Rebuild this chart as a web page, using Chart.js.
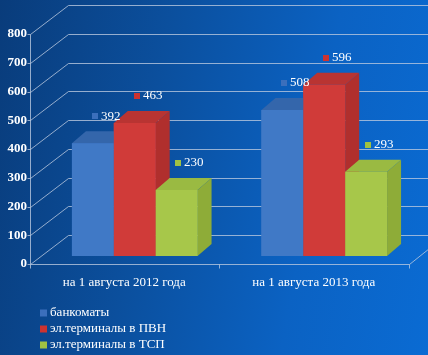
<!DOCTYPE html>
<html><head><meta charset="utf-8">
<script src="https://cdn.jsdelivr.net/npm/chart.js@4"></script>
<style>
html,body{margin:0;padding:0;width:428px;height:355px;overflow:hidden;}
body{background:linear-gradient(100deg,#093c7b 0%,#0b4f9d 35%,#0b62c3 70%,#0a6bd3 100%);}
#wrap{position:relative;width:428px;height:355px;}
</style></head><body>
<div id="wrap"><canvas id="c" width="428" height="355"></canvas></div>
<script>
const categories = ['на 1 августа 2012 года', 'на 1 августа 2013 года'];
const seriesNames = ['банкоматы', 'эл.терминалы в ПВН', 'эл.терминалы в ТСП'];
const atms = [392, 508];
const pvnTerminals = [463, 596];
const tspTerminals = [230, 293];
const yTicks = [0, 100, 200, 300, 400, 500, 600, 700, 800];

const frontColors = ['#4079c6', '#d03b39', '#a7c74a'];
const sideColors = ['#2f5fa3', '#b02f2d', '#8eac38'];
const topColors = ['#3466ab', '#b93432', '#9aba42'];
const markerColors = ['#3b6fbc', '#cc3331', '#9fc243'];

const FONT = '"Liberation Serif", "Times New Roman", serif';
const DEPTH = {dx: 14, dy: 12};
const FRONT = {dx: -10.5, dy: 8};
const BACK = {dx: 27.5, dy: -21};
const LINE = 'rgba(185,200,222,0.8)';

function poly(ctx, pts) {
  ctx.beginPath();
  ctx.moveTo(pts[0][0], pts[0][1]);
  for (let k = 1; k < pts.length; k++) ctx.lineTo(pts[k][0], pts[k][1]);
  ctx.closePath();
  ctx.fill();
}
function line(ctx, x1, y1, x2, y2) {
  ctx.beginPath(); ctx.moveTo(x1, y1); ctx.lineTo(x2, y2); ctx.stroke();
}

const frame3d = {
  id: 'frame3d',
  beforeDatasetsDraw(chart) {
    const {ctx, chartArea: a, scales: {x, y}} = chart;
    ctx.save();
    ctx.strokeStyle = LINE;
    ctx.lineWidth = 1;
    const fx = Math.round(a.left + FRONT.dx) + 0.5;
    const bx = Math.round(a.left + BACK.dx) + 0.5;
    yTicks.forEach(v => {
      const yp = y.getPixelForValue(v);
      const yb = Math.round(yp + BACK.dy) + 0.5;
      const yf = Math.round(yp + FRONT.dy) + 0.5;
      line(ctx, bx, yb, chart.width, yb);
      line(ctx, fx, yf, bx, yb);
      line(ctx, fx - 3, yf, fx, yf);
    });
    const yTop = Math.round(y.getPixelForValue(yTicks[yTicks.length - 1]) + FRONT.dy) + 0.5;
    const y0 = y.getPixelForValue(0);
    const yf0 = Math.round(y0 + FRONT.dy) + 0.5;
    line(ctx, fx, yTop, fx, yf0);
    const rf = Math.round(a.right + FRONT.dx) + 0.5;
    line(ctx, fx, yf0, rf, yf0);
    line(ctx, rf, yf0, a.right + BACK.dx, y0 + BACK.dy);
    const catW = (a.right - a.left) / categories.length;
    for (let k = 0; k <= categories.length; k++) {
      const tx = Math.round(a.left + k * catW + FRONT.dx) + 0.5;
      line(ctx, tx, yf0, tx, yf0 + 4);
    }
    ctx.restore();
  },
  afterDatasetsDraw(chart) {
    const {ctx} = chart;
    const items = [];
    chart.data.datasets.forEach((ds, i) => {
      chart.getDatasetMeta(i).data.forEach(bar => items.push({bar, i}));
    });
    items.sort((p, q) => p.bar.x - q.bar.x);
    ctx.save();
    items.forEach(({bar, i}) => {
      const {x, y, base, width} = bar.getProps(['x', 'y', 'base', 'width'], true);
      const l = x - width / 2, r = x + width / 2;
      ctx.fillStyle = sideColors[i];
      poly(ctx, [[r, y], [r + DEPTH.dx, y - DEPTH.dy], [r + DEPTH.dx, base - DEPTH.dy], [r, base]]);
      ctx.fillStyle = topColors[i];
      poly(ctx, [[l, y], [r, y], [r + DEPTH.dx, y - DEPTH.dy], [l + DEPTH.dx, y - DEPTH.dy]]);
      bar.draw(ctx, chart.chartArea);
    });
    ctx.restore();
  },
  afterDraw(chart) {
    const {ctx} = chart;
    ctx.save();
    ctx.font = '13px ' + FONT;
    ctx.textBaseline = 'middle';
    ctx.textAlign = 'left';
    chart.data.datasets.forEach((ds, i) => {
      chart.getDatasetMeta(i).data.forEach((bar, j) => {
        const txt = String(ds.data[j]);
        const w = ctx.measureText(txt).width;
        const total = 6 + 3 + w;
        const cx = bar.x + 13, cy = bar.y - 27;
        const sx = Math.round(cx - total / 2);
        ctx.fillStyle = markerColors[i];
        ctx.fillRect(sx, Math.round(cy - 3), 6, 6);
        ctx.fillStyle = '#ffffff';
        ctx.fillText(txt, sx + 9, cy);
      });
    });
    seriesNames.forEach((name, i) => {
      const ly = 313 + i * 16;
      ctx.fillStyle = markerColors[i];
      ctx.fillRect(40, ly - 3.5, 7, 7);
      ctx.fillStyle = '#ffffff';
      ctx.fillText(name, 50, ly);
    });
    ctx.restore();
  }
};

const datasets = [atms, pvnTerminals, tspTerminals].map((d, i) => ({
  label: seriesNames[i],
  data: d,
  backgroundColor: frontColors[i],
  borderWidth: 0
}));

new Chart(document.getElementById('c'), {
  type: 'bar',
  data: {labels: categories, datasets},
  options: {
    responsive: false,
    devicePixelRatio: 1,
    animation: false,
    layout: {padding: {left: 0, right: 9, top: 26, bottom: 0}},
    plugins: {legend: {display: false}, tooltip: {enabled: false}},
    datasets: {bar: {categoryPercentage: 0.663, barPercentage: 1}},
    scales: {
      x: {
        grid: {display: false, drawTicks: false},
        border: {display: false},
        ticks: {color: '#ffffff', font: {family: FONT, size: 13}, padding: 19, labelOffset: -10.5, maxRotation: 0},
        afterFit: s => { s.height = 99; }
      },
      y: {
        min: 0, max: 800,
        grid: {display: false, drawTicks: false},
        border: {display: false},
        ticks: {color: '#ffffff', font: {family: FONT, size: 13, weight: 'bold'}, padding: 13, labelOffset: 8},
        afterBuildTicks: s => { s.ticks = yTicks.map(v => ({value: v})); },
        afterFit: s => { s.width = 40; }
      }
    }
  },
  plugins: [frame3d]
});
</script>
</body></html>
